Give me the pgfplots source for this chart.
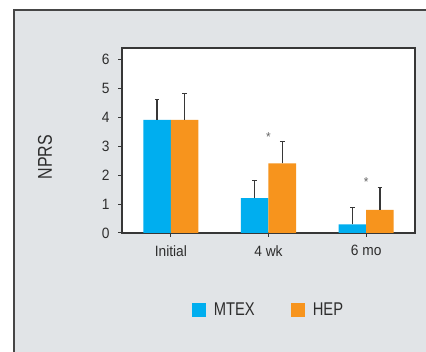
\documentclass[border=0pt]{standalone}
\usepackage{fontspec}
\setmainfont[FakeStretch=0.92]{Liberation Sans}
\newfontfamily\condfont[FakeStretch=0.8]{Liberation Sans}
\usepackage{pgfplots}
\pgfplotsset{compat=1.18}
\usepackage{pgfplotstable}

\definecolor{panelgray}{RGB}{225,228,231}
\definecolor{framegray}{RGB}{70,70,70}
\definecolor{axisgray}{RGB}{55,55,55}
\definecolor{mtexblue}{RGB}{0,174,239}
\definecolor{heporange}{RGB}{247,148,29}
\definecolor{txtgray}{RGB}{45,45,45}

% x  mean  upper SD
\pgfplotstableread{
x  y    e
0  3.9  0.70
1  1.2  0.62
2  0.3  0.59
}\mtex
\pgfplotstableread{
x  y    e
0  3.9  0.90
1  2.4  0.75
2  0.8  0.78
}\hep

\pgfplotsset{
  sdbars/.style={
    error bars/y dir=plus, error bars/y explicit,
    error bars/error bar style={axisgray, line width=1.5bp},
    error bars/error mark options={axisgray, rotate=90, mark size=2.3bp, line width=1.3bp},
  }
}

\begin{document}
\begin{tikzpicture}
% figure panel
\path[use as bounding box] (0,0) rectangle (426bp,352bp);
\fill[white] (0,0) rectangle (426bp,352bp);
\fill[panelgray] (14bp,0) rectangle (426bp,342bp);
\draw[framegray, line width=2bp] (14bp,0) -- (14bp,342bp) -- (426bp,342bp);

\begin{axis}[
  at={(122bp,119bp)}, anchor=south west,
  scale only axis, width=293bp, height=185bp,
  axis background/.style={fill=white},
  xmin=-0.5, xmax=2.5, ymin=0, ymax=6.38,
  ybar=0pt, bar width=27.5bp,
  xtick={0,1,2}, xticklabels={Initial, 4 wk, 6 mo},
  ytick={0,...,6},
  xtick pos=bottom, ytick pos=left,
  tick align=outside, major tick length=4bp,
  every tick/.style={axisgray, line width=1bp},
  axis line style={axisgray, line width=1.2bp},
  /pgf/number format/assume math mode=true,
  tick label style={font=\fontsize{15}{17}\selectfont, text=txtgray},
  xticklabel style={yshift=-5bp},
  yticklabel style={xshift=-5bp},
  ylabel={NPRS},
  ylabel style={at={(axis description cs:-0.263,0.41)}, anchor=center, rotate=0,
    font=\condfont\fontsize{20}{22}\selectfont, text=txtgray},
  legend columns=2,
  legend style={at={(axis description cs:0.5,-0.416)}, anchor=center,
    draw=none, fill=none, font=\condfont\fontsize{18.5}{20}\selectfont, text=txtgray,
    /tikz/every odd column/.append style={column sep=6bp},
    /tikz/every even column/.append style={column sep=34bp}},
  legend image code/.code={\fill[#1] (0bp,-7bp) rectangle (14bp,7bp);},
]
\addplot[fill=mtexblue, draw=none, sdbars] table[x=x, y=y, y error=e] {\mtex};
\addlegendentry{MTEX}
\addplot[fill=heporange, draw=none, sdbars] table[x=x, y=y, y error=e] {\hep};
\addlegendentry{HEP}
\node[text=gray!80!black, font=\fontsize{13}{14}\selectfont] at (axis cs:1,3.3) {*};
\node[text=gray!80!black, font=\fontsize{13}{14}\selectfont] at (axis cs:2,1.74) {*};
\end{axis}
\end{tikzpicture}
\end{document}
